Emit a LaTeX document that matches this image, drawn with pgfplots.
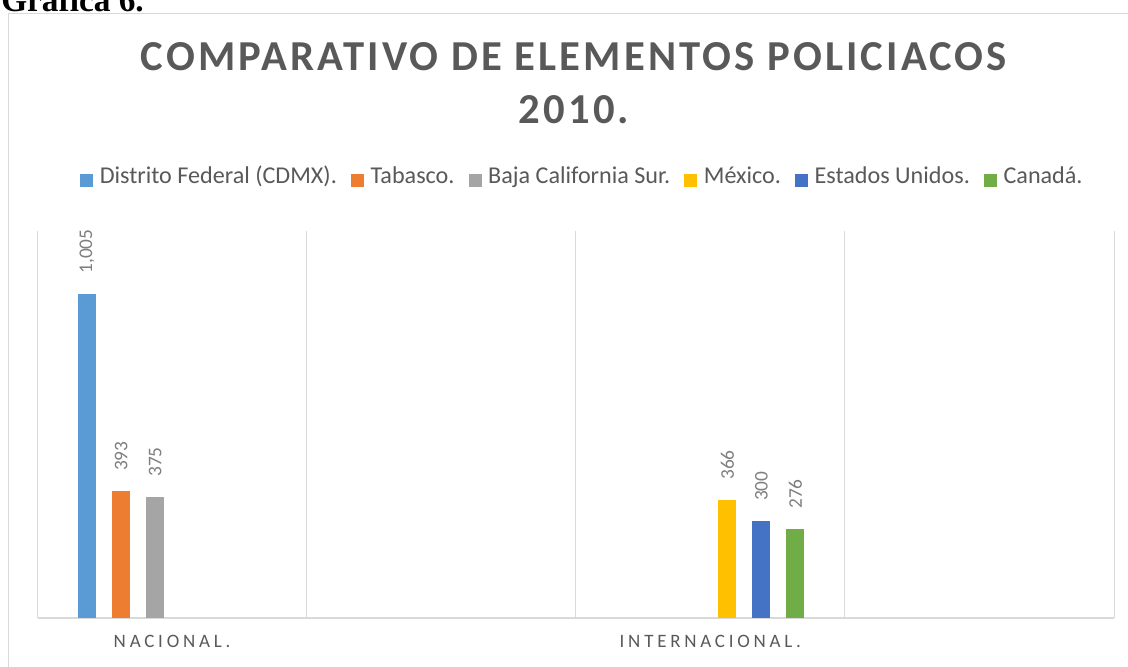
\documentclass[border=0pt]{standalone}
\usepackage{pgfplots}
\pgfplotsset{compat=1.18}
\usepackage{fontspec}
\setmainfont{Carlito}
\newfontfamily\titlefont[LetterSpace=7.3]{Carlito}
\newfontfamily\catfont[LetterSpace=20]{Carlito}
\newfontfamily\headfont{Liberation Serif}
\definecolor{txt}{HTML}{595959}
\definecolor{lbl}{HTML}{7F7F7F}
\definecolor{grd}{HTML}{D9D9D9}
\definecolor{c1}{HTML}{5B9BD5}
\definecolor{c2}{HTML}{ED7D31}
\definecolor{c3}{HTML}{A5A5A5}
\definecolor{c4}{HTML}{FFC000}
\definecolor{c5}{HTML}{4472C4}
\definecolor{c6}{HTML}{70AD47}
\begin{document}
\begin{tikzpicture}
\useasboundingbox (0,0) rectangle (846pt,-500.25pt);
\clip (0,0) rectangle (846pt,-500.25pt);
\fill[white] (0,0) rectangle (846pt,-500.25pt);
\begin{scope}[x=0.75pt,y=-0.75pt]
\draw[grd, line width=0.75pt] (8.5,13.5) rectangle (1145,700);
\node[anchor=base west, inner sep=0pt, font=\headfont\bfseries\fontsize{25}{25}\selectfont] at (1,12) {Gráfica 6.};
\node[anchor=base, inner sep=0pt, text=txt, font=\titlefont\bfseries\fontsize{32}{32}\selectfont] at (574,71) {COMPARATIVO DE ELEMENTOS POLICIACOS};
\node[anchor=base, inner sep=0pt, text=txt, font=\titlefont\bfseries\fontsize{32}{32}\selectfont] at (574,123) {2010.};
\end{scope}
\begin{axis}[
  at={(28.125pt,-463.5pt)}, anchor=south west,
  scale only axis, width=807.4pt, height=290.25pt,
  xmin=0, xmax=4, ymin=0, ymax=1200, enlargelimits=false,
  ybar, bar width=13.5pt,
  axis line style={draw=none},
  ytick=\empty,
  extra y ticks={0}, extra y tick labels={}, extra y tick style={grid=major},
  major grid style={draw=grd, line width=1.1pt},
  xtick={0.5,2.5}, xticklabels={NACIONAL., INTERNACIONAL.},
  xtick pos=bottom,
  minor xtick={0,1,2,3,4}, xminorgrids,
  minor grid style={draw=grd, line width=0.75pt},
  major tick length=0pt, minor tick length=0pt,
  xticklabel style={anchor=base, inner sep=0pt, yshift=-21.75pt, font=\catfont\fontsize{14.2}{14.2}\selectfont, text=txt},
  nodes near coords={\pgfmathprintnumber[assume math mode=true]{\pgfplotspointmeta}},
  nodes near coords style={rotate=90, anchor=west, inner xsep=15pt, inner ysep=0pt, font=\fontsize{14.5}{14.5}\selectfont, text=lbl},
  legend columns=-1, legend cell align=left,
  legend style={at={(0.5052,1.1378)}, anchor=center, draw=none, fill=none, inner sep=0pt, outer sep=0pt,
    font=\fontsize{18.1}{18.1}\selectfont, text=txt,
    nodes={inner sep=0pt, text height=13pt, text depth=5pt},
    /tikz/every odd column/.append style={column sep=5pt},
    /tikz/every even column/.append style={column sep=10.5pt}},
  legend image code/.code={\fill[#1] (0pt,-7pt) rectangle (9.75pt,2.75pt);},
  clip=false,
]
\addplot[fill=c1, draw=none, bar shift=-63.75pt] coordinates {(0.5,1005)};
\addplot[fill=c2, draw=none, bar shift=-38.25pt] coordinates {(0.5,393)};
\addplot[fill=c3, draw=none, bar shift=-12.75pt] coordinates {(0.5,375)};
\addplot[fill=c4, draw=none, bar shift=12.75pt] coordinates {(2.5,366)};
\addplot[fill=c5, draw=none, bar shift=38.25pt] coordinates {(2.5,300)};
\addplot[fill=c6, draw=none, bar shift=63.75pt] coordinates {(2.5,276)};
\legend{Distrito Federal (CDMX).,Tabasco.,Baja California Sur.,México.,Estados Unidos.,Canadá.}
\end{axis}
\end{tikzpicture}
\end{document}
